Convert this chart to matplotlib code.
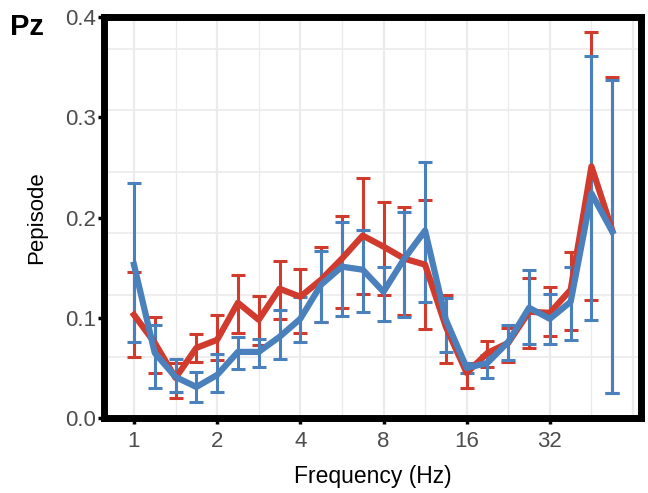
import numpy as np
import matplotlib.pyplot as plt

plt.rcParams['font.family'] = ['Liberation Sans', 'DejaVu Sans']

# frequency bins: quarter-octave steps from 1 Hz
freqs = 2 ** (np.arange(24) / 4)

red_mean = [0.103, 0.075, 0.040, 0.070, 0.078, 0.115, 0.098, 0.129, 0.121, 0.138, 0.159, 0.182,
            0.171, 0.159, 0.153, 0.091, 0.045, 0.065, 0.075, 0.106, 0.105, 0.128, 0.251, 0.187]
red_hi = [0.146, 0.101, 0.055, 0.084, 0.103, 0.143, 0.122, 0.157, 0.149, 0.171, 0.202, 0.239,
          0.215, 0.211, 0.217, 0.123, 0.055, 0.077, 0.090, 0.140, 0.131, 0.166, 0.385, 0.340]
red_lo = [0.061, 0.045, 0.020, 0.056, 0.058, 0.085, 0.073, 0.099, 0.085, 0.096, 0.110, 0.124,
          0.123, 0.103, 0.089, 0.055, 0.030, 0.051, 0.056, 0.070, 0.082, 0.088, 0.118, 0.025]

blue_mean = [0.153, 0.065, 0.041, 0.031, 0.043, 0.066, 0.066, 0.081, 0.099, 0.133, 0.151, 0.148,
             0.126, 0.159, 0.187, 0.098, 0.050, 0.055, 0.076, 0.110, 0.099, 0.116, 0.224, 0.186]
blue_hi = [0.234, 0.093, 0.059, 0.046, 0.064, 0.081, 0.079, 0.108, 0.121, 0.167, 0.196, 0.188,
           0.151, 0.206, 0.255, 0.120, 0.055, 0.063, 0.093, 0.148, 0.124, 0.151, 0.361, 0.337]
blue_lo = [0.076, 0.030, 0.026, 0.016, 0.026, 0.049, 0.051, 0.059, 0.076, 0.096, 0.102, 0.106,
           0.097, 0.101, 0.116, 0.066, 0.045, 0.040, 0.058, 0.074, 0.074, 0.078, 0.098, 0.025]

xticks = [1, 2, 4, 8, 16, 32]

fig = plt.figure(figsize=(6.48, 4.93), dpi=100)
ax = fig.add_axes([0.1605, 0.152, 0.8285, 0.8135])

# odd grid spacing as in the source figure
for g in np.arange(1, 7) * 0.0614:
    ax.axhline(g, color='#ebebeb', lw=1.2, zorder=0)
for k in np.arange(-0.5, 6.5, 0.5):
    ax.axvline(2 ** k, color='#ebebeb', lw=1.6 if k == int(k) else 1.0, zorder=0)

for mean, lo, hi, col in [(red_mean, red_lo, red_hi, '#d13b2e'),
                          (blue_mean, blue_lo, blue_hi, '#4a80bb')]:
    mean = np.array(mean)
    yerr = [mean - np.array(lo), np.array(hi) - mean]
    ax.errorbar(freqs, mean, yerr=yerr, color=col, lw=4.5, elinewidth=2.2,
                capsize=5, capthick=2.2, zorder=3)

ax.set_xscale('log', base=2)
ax.set_xlim(2 ** -0.36, 2 ** 6.094)
ax.set_ylim(0, 0.4)
ax.set_xticks(xticks)
ax.set_xticklabels([str(t) for t in xticks])
ax.minorticks_off()
ax.set_yticks([0.0, 0.1, 0.2, 0.3, 0.4])
ax.set_yticklabels(['0.0', '0.1', '0.2', '0.3', '0.4'])
ax.tick_params(axis='both', colors='black', labelcolor='#4d4d4d', labelsize=16,
               length=4, width=2.5)
ax.tick_params(axis='x', pad=5)
ax.tick_params(axis='y', pad=2)

for s in ax.spines.values():
    s.set_linewidth(5)
    s.set_color('black')

ax.set_xlabel('Frequency (Hz)', fontsize=16.5, labelpad=10)
ax.set_ylabel('Pepisode', fontsize=16)
ax.yaxis.set_label_coords(-0.106, 0.5)
fig.text(0.016, 0.93, 'Pz', fontsize=21, fontweight='bold')

fig.savefig('out.png', dpi=100)
